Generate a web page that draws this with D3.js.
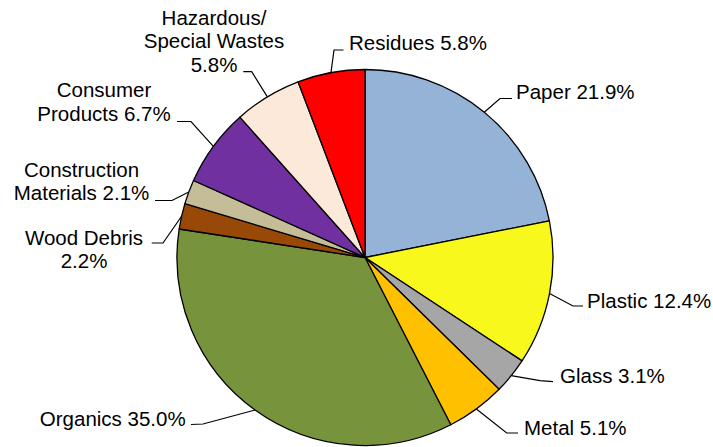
<!DOCTYPE html>
<html>
<head>
<meta charset="utf-8">
<script src="https://cdn.jsdelivr.net/npm/d3@7/dist/d3.min.js"></script>
<style>
  html, body { margin: 0; padding: 0; background: #fff; }
  svg { display: block; }
  text { font-family: "Liberation Sans", Arial, sans-serif; font-size: 20.5px; fill: #000; }
</style>
</head>
<body>
<svg id="chart" width="713" height="447"></svg>
<script>
// Waste composition by material category (percent of total)
const categories = ["Paper", "Plastic", "Glass", "Metal", "Organics", "Wood Debris",
  "Construction Materials", "Consumer Products", "Hazardous/Special Wastes", "Residues"];
const shares = [21.9, 12.4, 3.1, 5.1, 35.0, 2.2, 2.1, 6.7, 5.8, 5.8];
// Label text lines as shown beside each slice (value appended to the last line)
const labelLines = [
  ["Paper"], ["Plastic"], ["Glass"], ["Metal"], ["Organics"],
  ["Wood Debris", ""], ["Construction", "Materials"], ["Consumer", "Products"],
  ["Hazardous/", "Special Wastes", ""], ["Residues"]
];
const colors = ["#95B3D7", "#F8F81C", "#A6A6A6", "#FFC000", "#77933C",
  "#984807", "#C4BD97", "#7030A0", "#FDE9D9", "#FF0000"];

// Layout
const W = 713, H = 447;
const cx = 365, cy = 257.5, R = 188;
const lineH = 23.3;

// Label placement relative to the pie centre:
// t = anchor of last text line baseline, anchor = text-anchor,
// elbow/end = leader line bend and end beside the text
const labelLayout = [
  { t: [151, -158.5], anchor: "start",  elbow: [135, -159], end: [147, -159] },
  { t: [222, 50.2],   anchor: "start",  elbow: [208, 48.5], end: [218, 48.5] },
  { t: [195, 125.2],  anchor: "start",  elbow: [175, 123.2], end: [188, 124.2] },
  { t: [159, 177.5],  anchor: "start",  elbow: [141.7, 175.5], end: [153, 175.5] },
  { t: [-179.3, 168.2], anchor: "end", elbow: [-162, 166.5], end: [-174, 167] },
  { t: [-281, 10.8],  anchor: "middle", elbow: [-202, -14.5], end: [-213.3, -14.5] },
  { t: [-283.5, -57.5], anchor: "middle", elbow: [-193, -57], end: [-210, -57] },
  { t: [-261, -136.8], anchor: "middle", elbow: [-174, -136], end: [-188, -136] },
  { t: [-151, -185.8], anchor: "middle", elbow: [-113.3, -185.8], end: [-121.7, -185.8] },
  { t: [-16, -207.5], anchor: "start",  elbow: [-31, -207.5], end: [-21.5, -207.5] }
];

const data = categories.map((c, i) => ({ name: c, value: shares[i], color: colors[i], lines: labelLines[i], layout: labelLayout[i] }));

const svg = d3.select("#chart");
const g = svg.append("g").attr("transform", `translate(${cx},${cy})`);

const pie = d3.pie().sort(null).value(d => d.value).startAngle(0).endAngle(2 * Math.PI);
const arcs = pie(data);

const arc = d3.arc().innerRadius(0).outerRadius(R);
const rim = d3.arc().innerRadius(R).outerRadius(R);

g.selectAll("path.slice")
  .data(arcs)
  .join("path")
  .attr("class", "slice")
  .attr("d", arc)
  .attr("fill", d => d.data.color)
  .attr("stroke", "#000")
  .attr("stroke-width", 1.3)
  .attr("stroke-linejoin", "round");

// Leader lines from the rim at each slice's mid-angle
g.selectAll("polyline.leader")
  .data(arcs)
  .join("polyline")
  .attr("class", "leader")
  .attr("points", d => {
    const mid = (d.startAngle + d.endAngle) / 2;
    const p0 = [R * Math.sin(mid), -R * Math.cos(mid)];
    return [p0, d.data.layout.elbow, d.data.layout.end].map(p => p.join(",")).join(" ");
  })
  .attr("fill", "none")
  .attr("stroke", "#000")
  .attr("stroke-width", 1.2);

// Labels
const fmt = d3.format(".1f");
const lab = g.selectAll("text.label")
  .data(arcs)
  .join("text")
  .attr("class", "label")
  .attr("text-anchor", d => d.data.layout.anchor);

lab.each(function(d) {
  const t = d3.select(this);
  const lines = d.data.lines.slice();
  const last = lines.length - 1;
  const valTxt = fmt(d.data.value) + "%";
  lines[last] = lines[last] ? lines[last] + " " + valTxt : valTxt;
  lines.forEach((ln, i) => {
    t.append("tspan")
      .attr("x", d.data.layout.t[0])
      .attr("y", d.data.layout.t[1] - (last - i) * lineH)
      .text(ln);
  });
});
</script>
</body>
</html>
